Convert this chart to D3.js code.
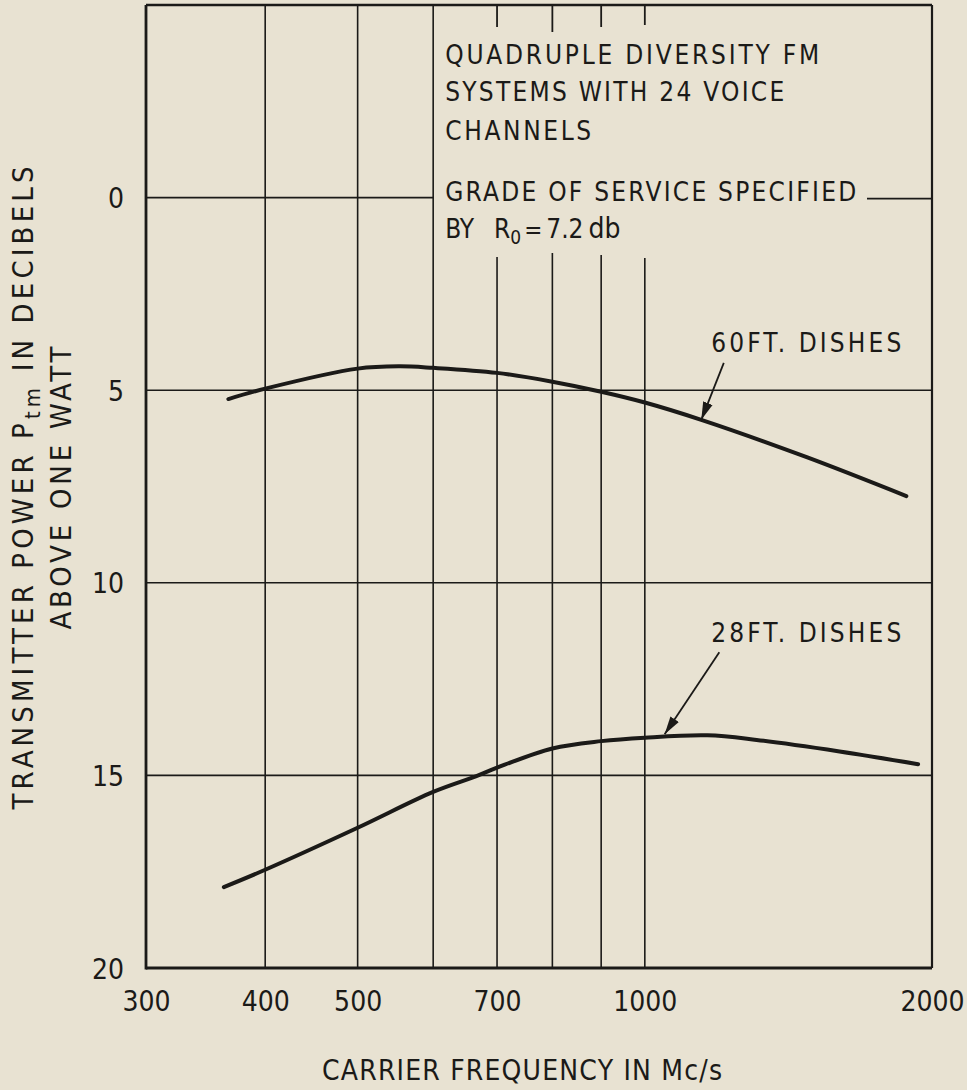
<!DOCTYPE html>
<html>
<head>
<meta charset="utf-8">
<script src="https://cdn.jsdelivr.net/npm/d3@7"></script>
<style>
  html, body { margin: 0; padding: 0; background: #e8e2d2; }
  svg { display: block; }
  text { font-family: "Liberation Sans Narrow", "DejaVu Sans Condensed", "Liberation Sans", sans-serif; fill: #1b1a18; }
</style>
</head>
<body>
<script>
// ---------------- data ----------------
const freq60 = [366, 400, 500, 553, 600, 700, 800, 900, 1000, 1146, 1478, 1880];
const pow60  = [5.23, 4.96, 4.44, 4.38, 4.42, 4.55, 4.78, 5.04, 5.32, 5.77, 6.74, 7.75];

const freq28 = [362, 400, 500, 600, 666, 700, 800, 900, 1000, 1163, 1310, 1600, 1934];
const pow28  = [17.9, 17.45, 16.36, 15.43, 15.02, 14.8, 14.3, 14.11, 14.02, 13.96, 14.08, 14.38, 14.71];

const xTickValues = [300, 400, 500, 700, 1000, 2000];
const xGridFull   = [400, 500, 600];
const xGridBroken = [700, 800, 900, 1000];
const yTickValues = [0, 5, 10, 15, 20];
const yGridFull   = [5, 10, 15];

const infoLines = ["QUADRUPLE DIVERSITY FM", "SYSTEMS WITH 24 VOICE", "CHANNELS"];
const gradeLine = "GRADE OF SERVICE SPECIFIED";
const curveLabels = [
  { text: "60FT. DISHES", lx: 1174, ly: 4.01, tx: 1210, ty: 4.29, hx: 1146, hy: 5.77 },
  { text: "28FT. DISHES", lx: 1174, ly: 11.54, tx: 1197, ty: 11.8, hx: 1049, hy: 13.93 }
];

// ---------------- layout ----------------
const W = 967, H = 1090;
const L = 146, R = 932, T = 5, B = 968;
const ink = "#1b1a18";

const svg = d3.select("body").append("svg").attr("width", W).attr("height", H);
svg.append("rect").attr("width", W).attr("height", H).attr("fill", "#e8e2d2");

const x = d3.scaleLog().domain([300, 2000]).range([L, R]);
const y = d3.scaleLinear().domain([-5, 20]).range([T, B]);

const g = svg.append("g");

// grid: vertical
g.selectAll(".vf").data(xGridFull).enter().append("line")
  .attr("x1", d => x(d)).attr("x2", d => x(d)).attr("y1", T).attr("y2", B)
  .attr("stroke", ink).attr("stroke-width", 1.6);
g.selectAll(".vbt").data(xGridBroken).enter().append("line")
  .attr("x1", d => x(d)).attr("x2", d => x(d)).attr("y1", T).attr("y2", (d, i) => [27, 32, 27, 25][i])
  .attr("stroke", ink).attr("stroke-width", 1.8);
g.selectAll(".vbb").data(xGridBroken).enter().append("line")
  .attr("x1", d => x(d)).attr("x2", d => x(d)).attr("y1", (d, i) => [257, 253, 255, 258][i]).attr("y2", B)
  .attr("stroke", ink).attr("stroke-width", 1.6);

// grid: horizontal
g.selectAll(".hf").data(yGridFull).enter().append("line")
  .attr("x1", L).attr("x2", R).attr("y1", d => y(d)).attr("y2", d => y(d))
  .attr("stroke", ink).attr("stroke-width", 1.6);
g.append("line").attr("x1", L).attr("x2", x(600)).attr("y1", y(0)).attr("y2", y(0))
  .attr("stroke", ink).attr("stroke-width", 1.6);
g.append("line").attr("x1", 867).attr("x2", R).attr("y1", y(0) + 1).attr("y2", y(0) + 1)
  .attr("stroke", ink).attr("stroke-width", 1.6);

// frame
g.append("line").attr("x1", L).attr("x2", R).attr("y1", T).attr("y2", T).attr("stroke", ink).attr("stroke-width", 2.4);
g.append("line").attr("x1", R).attr("x2", R).attr("y1", T).attr("y2", B).attr("stroke", ink).attr("stroke-width", 2.2);
g.append("line").attr("x1", L).attr("x2", L).attr("y1", T).attr("y2", B + 1.5).attr("stroke", ink).attr("stroke-width", 2.8);
g.append("line").attr("x1", L).attr("x2", R).attr("y1", B).attr("y2", B).attr("stroke", ink).attr("stroke-width", 3);

// axes (labels only)
const xAxis = d3.axisBottom(x).tickValues(xTickValues).tickFormat(d3.format("d")).tickSize(0).tickPadding(0);
const xa = svg.append("g").attr("transform", `translate(0,${B})`).call(xAxis);
xa.select(".domain").remove();
xa.selectAll("text").attr("y", 43).attr("dy", null).attr("font-size", 28)
  .style("font-family", '"Liberation Sans Narrow", "DejaVu Sans Condensed", sans-serif').attr("fill", ink);

const yAxis = d3.axisLeft(y).tickValues(yTickValues).tickFormat(d3.format("d")).tickSize(0).tickPadding(0);
const ya = svg.append("g").attr("transform", `translate(${L - 22},0)`).call(yAxis);
ya.select(".domain").remove();
ya.selectAll("text").attr("dy", "0.36em").attr("font-size", 28)
  .style("font-family", '"Liberation Sans Narrow", "DejaVu Sans Condensed", sans-serif').attr("fill", ink);

// curves
const line = d3.line().x(d => x(d[0])).y(d => y(d[1])).curve(d3.curveCatmullRom.alpha(0.5));
g.append("path").datum(freq60.map((f, i) => [f, pow60[i]])).attr("d", line)
  .attr("fill", "none").attr("stroke", ink).attr("stroke-width", 4).attr("stroke-linecap", "round");
g.append("path").datum(freq28.map((f, i) => [f, pow28[i]])).attr("d", line)
  .attr("fill", "none").attr("stroke", ink).attr("stroke-width", 4).attr("stroke-linecap", "round");

// arrow marker
svg.append("defs").append("marker").attr("id", "ah")
  .attr("viewBox", "0 0 10 10").attr("refX", 10).attr("refY", 5)
  .attr("markerWidth", 18).attr("markerHeight", 18).attr("markerUnits", "userSpaceOnUse")
  .attr("orient", "auto")
  .append("path").attr("d", "M0,2.2 L10,5 L0,7.8 Z").attr("fill", ink);

curveLabels.forEach(c => {
  g.append("line").attr("x1", x(c.tx)).attr("y1", y(c.ty)).attr("x2", x(c.hx)).attr("y2", y(c.hy))
    .attr("stroke", ink).attr("stroke-width", 1.8).attr("marker-end", "url(#ah)");
  g.append("text").attr("x", x(c.lx)).attr("y", y(c.ly)).attr("font-size", 26)
    .attr("textLength", 190).attr("lengthAdjust", "spacing").text(c.text);
});

// info text block
const tx0 = x(600) + 12;
const infoBase = [64, 101, 140];
const infoLen = [374, 339, 146];
infoLines.forEach((t, i) => {
  g.append("text").attr("x", tx0).attr("y", infoBase[i]).attr("font-size", 26)
    .attr("textLength", infoLen[i]).attr("lengthAdjust", "spacing").text(t);
});
g.append("text").attr("x", tx0).attr("y", 201).attr("font-size", 26)
  .attr("textLength", 411).attr("lengthAdjust", "spacing").text(gradeLine);

const by = g.append("text").attr("x", tx0).attr("y", 238).attr("font-size", 26);
by.append("tspan").text("BY");
by.append("tspan").attr("dx", 20).text("R");
by.append("tspan").attr("dy", 6).attr("font-size", 19).text("0");
by.append("tspan").attr("dy", -6).attr("dx", 3).attr("font-size", 24).text("=");
by.append("tspan").attr("dx", 4).attr("font-size", 26).text("7.2");
by.append("tspan").attr("dx", 5).attr("font-size", 28).text("db");

// axis titles
svg.append("text").attr("x", 522).attr("y", 1080).attr("text-anchor", "middle")
  .attr("font-size", 28).attr("textLength", 400).attr("lengthAdjust", "spacing")
  .text("CARRIER FREQUENCY IN Mc/s");

const yt1 = svg.append("text").attr("transform", "translate(33,488) rotate(-90)")
  .attr("text-anchor", "middle").attr("font-size", 29).attr("textLength", 643).attr("lengthAdjust", "spacing");
yt1.append("tspan").text("TRANSMITTER POWER P");
yt1.append("tspan").attr("dy", 7).attr("font-size", 22).text("tm");
yt1.append("tspan").attr("dy", -7).text(" IN DECIBELS");

svg.append("text").attr("transform", "translate(71,488) rotate(-90)")
  .attr("text-anchor", "middle").attr("font-size", 29).attr("textLength", 283).attr("lengthAdjust", "spacing")
  .text("ABOVE ONE WATT");
</script>
</body>
</html>
